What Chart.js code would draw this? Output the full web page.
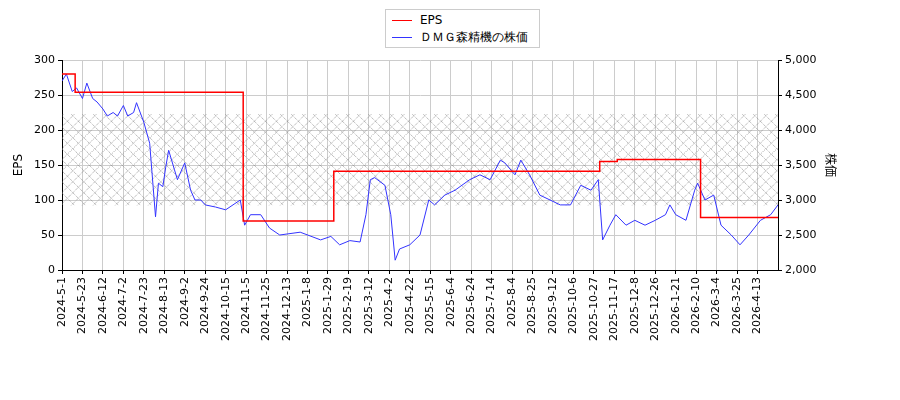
<!DOCTYPE html>
<html><head><meta charset="utf-8">
<script src="https://cdn.jsdelivr.net/npm/chart.js@4"></script>
<style>
body{margin:0;background:#fff;font-family:"DejaVu Sans",sans-serif}
#wrap{position:relative;width:900px;height:400px}
#leg{position:absolute;left:385px;top:9px;width:155px;height:39px;border:1px solid #ccc;background:#fff;font-size:12px;box-sizing:border-box;padding:2px 6px}
#leg div{height:17px;line-height:17px}
#leg span{display:inline-block;width:20px;height:0;border-top:1px solid;vertical-align:middle;margin-right:8px}
</style></head><body>
<div id="wrap"><canvas id="c" width="900" height="400"></canvas>
<div id="leg"><div><span style="border-color:#f00"></span>EPS</div><div><span style="border-color:#33f"></span>ＤＭＧ森精機の株価</div></div></div>
<script>
const tickLabels = ['2024-5-1','2024-5-23','2024-6-12','2024-7-2','2024-7-23','2024-8-13','2024-9-2','2024-9-24','2024-10-15','2024-11-5','2024-11-25','2024-12-13','2025-1-8','2025-1-29','2025-2-19','2025-3-12','2025-4-2','2025-4-22','2025-5-15','2025-6-4','2025-6-24','2025-7-14','2025-8-4','2025-8-25','2025-9-12','2025-10-6','2025-10-27','2025-11-17','2025-12-8','2025-12-26','2026-1-21','2026-2-10','2026-3-4','2026-3-25','2026-4-13'];
const priceIdx = [0,3,7,10,14,17,21,24,28,31,35,38,42,45,49,51,56,60,64,66,69,71,73,77,79,84,88,91,95,98,105,112,122,125,129,136,142,149,163,177,184,190,197,204,208,211,214,221,225,228,231,238,245,251,255,262,269,279,286,293,300,303,310,314,320,327,334,341,348,355,362,367,370,375,379,386,392,399,406,413,416,420,427,433,435,440,446,451,458,464,470,478,485,490];
const priceVal = [4700,4800,4550,4600,4450,4670,4450,4400,4300,4200,4250,4200,4350,4200,4250,4390,4110,3810,2760,3240,3190,3470,3710,3430,3290,3530,3140,3000,3000,2930,2900,2860,3000,2640,2790,2790,2600,2500,2540,2430,2480,2360,2420,2400,2790,3290,3320,3210,2790,2140,2300,2360,2500,3000,2930,3070,3140,3290,3360,3290,3570,3530,3360,3570,3360,3070,3000,2930,2930,3210,3140,3290,2430,2640,2790,2640,2710,2640,2710,2790,2930,2790,2710,3140,3240,3000,3070,2640,2500,2360,2500,2710,2790,2930];
const epsIdx = [0,9,124,186,368,380,437,490];
const epsVal = [280,254,70,141,155,158,75,75];

const hatch = {id:'hatch', beforeDatasetsDraw(ch){
  const {ctx, chartArea:a, scales} = ch;
  const y1 = scales.y.getPixelForValue(223), y2 = scales.y.getPixelForValue(92);
  ctx.save(); ctx.beginPath(); ctx.rect(a.left,y1,a.right-a.left,y2-y1); ctx.clip();
  ctx.strokeStyle='#888'; ctx.lineWidth=0.8; ctx.setLineDash([1,1]);
  ctx.beginPath();
  for(let x=a.left-200; x<a.right+200; x+=11){
    ctx.moveTo(x,y1); ctx.lineTo(x+(y2-y1),y2);
    ctx.moveTo(x,y2); ctx.lineTo(x+(y2-y1),y1);
  }
  ctx.stroke(); ctx.restore();
}};

new Chart(document.getElementById('c'), {
  type:'line',
  data:{datasets:[
    {label:'EPS', data:epsIdx.map((x,i)=>({x,y:epsVal[i]})), stepped:'before', borderColor:'#f00', borderWidth:1.5, pointRadius:0, yAxisID:'y'},
    {label:'ＤＭＧ森精機の株価', data:priceIdx.map((x,i)=>({x,y:priceVal[i]})), borderColor:'#33f', borderWidth:1, pointRadius:0, yAxisID:'y2', tension:0}
  ]},
  options:{animation:false, responsive:false,
    layout:{padding:{top:60,left:8,right:58,bottom:0}},
    plugins:{legend:{display:false}, tooltip:{enabled:false}},
    scales:{
      x:{type:'linear', min:0, max:490,
        afterBuildTicks(s){ s.ticks = tickLabels.map((_,i)=>({value:i*14})); },
        afterFit(s){ s.height=130; },
        ticks:{minRotation:90, maxRotation:90, color:'#000', font:{family:'DejaVu Sans', size:11}, callback:(v)=>tickLabels[Math.round(v/14)]},
        grid:{color:'#ccc', tickColor:'#000', tickLength:4}, border:{color:'#000'}},
      y:{min:0, max:300, position:'left',
        afterBuildTicks(s){ s.ticks=[0,50,100,150,200,250,300].map(v=>({value:v})); },
        afterFit(s){ s.width=54; },
        title:{display:true, text:'EPS', color:'#000', font:{family:'DejaVu Sans', size:12}},
        ticks:{color:'#000', font:{family:'DejaVu Sans', size:11}},
        grid:{color:'#ccc', tickColor:'#000', tickLength:4}, border:{color:'#000'}},
      y2:{min:2000, max:5000, position:'right',
        afterBuildTicks(s){ s.ticks=[2000,2500,3000,3500,4000,4500,5000].map(v=>({value:v})); },
        afterFit(s){ s.width=64; },
        title:{display:true, text:'株価', color:'#000', font:{family:'Noto Sans CJK JP', size:12}},
        ticks:{color:'#000', font:{family:'DejaVu Sans', size:11}},
        grid:{drawOnChartArea:false, tickColor:'#000', tickLength:4}, border:{color:'#000'}}
    }},
  plugins:[hatch]
});
</script></body></html>
